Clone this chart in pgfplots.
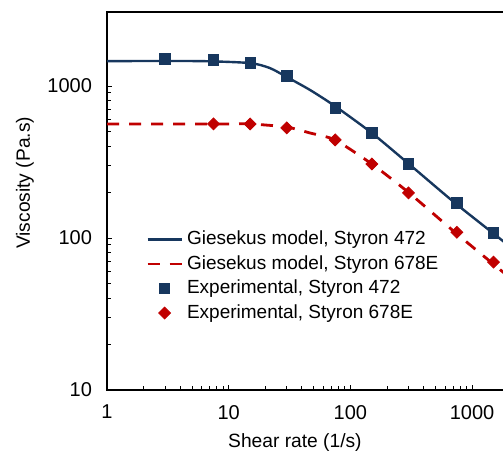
\documentclass[border=0pt]{standalone}
\usepackage{pgfplots}
\pgfplotsset{compat=1.18}
\usepackage{fontspec}
\setmainfont{Liberation Sans}
\usetikzlibrary{calc}

\definecolor{navy}{RGB}{23,55,94}
\definecolor{darkred}{RGB}{192,0,0}

\begin{document}
\begin{tikzpicture}
\begin{axis}[
    name=ax,
    xmode=log, ymode=log,
    scale only axis,
    width=199.5pt, height=189pt,
    xmin=1, xmax=1900,
    ymin=10, ymax=3070,
    xtick={1,10,100,1000}, xticklabels={1,10,100,1000},
    ytick={10,100,1000}, yticklabels={10,100,1000},
    xtick pos=left, ytick pos=left,
    tick align=inside,
    major tick length=2.5pt, minor tick length=1.8pt,
    tick style={black, line width=0.5pt},
    axis line style={black, line width=1pt},
    tick label style={font=\fontsize{10}{11}\selectfont},
    xticklabel style={yshift=-4pt},
    yticklabel style={xshift=-4pt},
    xlabel={Shear rate (1/s)},
    ylabel={Viscosity (Pa.s)},
    label style={font=\fontsize{9.6}{11}\selectfont},
    xlabel style={at={(axis description cs:0.471,0)}, anchor=center, yshift=-26.5pt},
    ylabel style={at={(axis description cs:-0.2055,0.548)}, anchor=center, rotate=0},
    legend style={draw=none, fill=none, at={(axis description cs:0.082,0.443)},
        anchor=north west, font=\fontsize{9.5}{10.5}\selectfont, row sep=-0.1pt},
    legend cell align=left,
]
% Giesekus model, Styron 472
\addplot[navy, line width=1.2pt, smooth, tension=0.4] coordinates {
  (1,1459) (5.81,1459) (14.96,1416) (21.8,1313) (30.1,1145) (46.6,942)
  (74.7,738) (150,491) (297,311) (724,170) (1795,95.5) (1900,91)
};
\addlegendentry{Giesekus model, Styron 472}
% Giesekus model, Styron 678E
\addplot[darkred, line width=1.4pt, dash pattern=on 6pt off 5pt, smooth, tension=0.4] coordinates {
  (1,563) (8.48,563) (14.96,563) (30.1,537) (46.6,491) (74.7,442)
  (150,307) (297,201) (724,109) (1795,59.7) (1900,57)
};
\addlegendentry{Giesekus model, Styron 678E}
% Experimental, Styron 472
\addplot[only marks, mark=square*, mark size=2.6pt, color=navy] coordinates {
  (3,1506) (7.5,1483) (15,1416) (30,1164) (75,716) (150,491)
  (300,307) (750,170) (1500,108)
};
\addlegendentry{Experimental, Styron 472}
% Experimental, Styron 678E
\addplot[only marks, mark=square*, mark size=2.1pt, mark options={rotate=45}, color=darkred] coordinates {
  (7.5,563) (15,563) (30,530) (75,442) (150,307) (300,198)
  (750,109) (1500,69.5)
};
\addlegendentry{Experimental, Styron 678E}
\coordinate (rc) at (axis cs:1795,10);
\end{axis}
\coordinate (tr) at (ax.north west -| rc);
\pgfresetboundingbox
\path ([xshift=-53.5pt,yshift=-33.5pt]ax.south west) rectangle ([yshift=6pt]tr);
\end{tikzpicture}
\end{document}
